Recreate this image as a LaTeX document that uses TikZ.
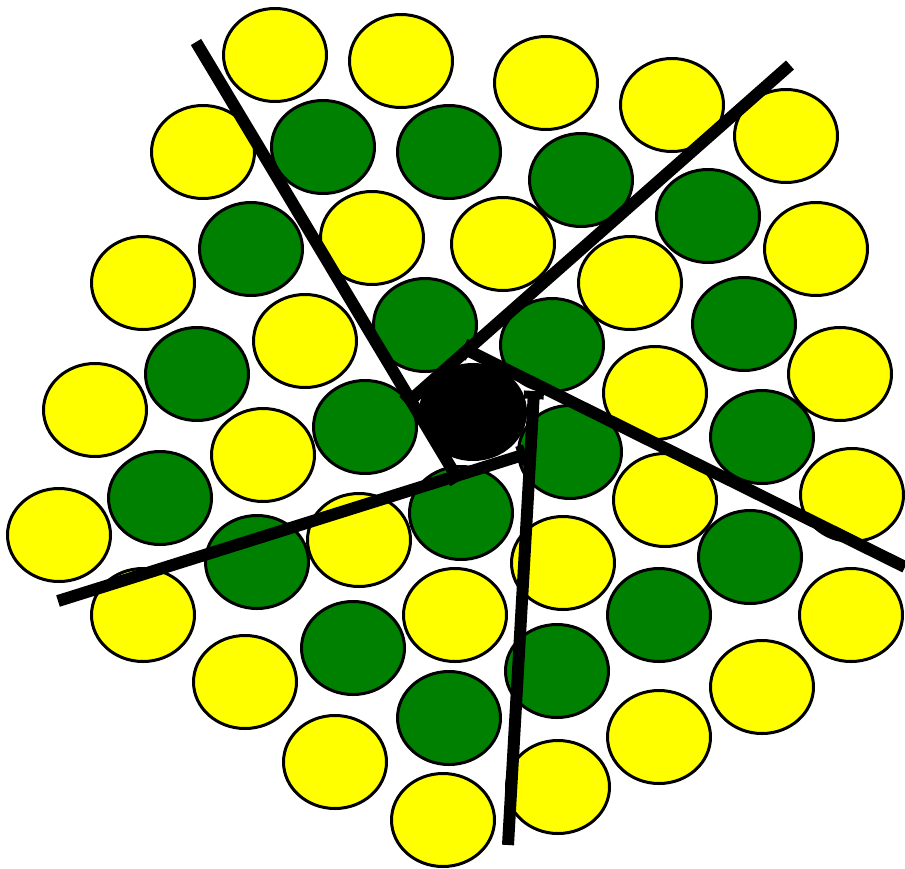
\documentclass[tikz,border=0pt]{standalone}
\usepackage{tikz}
\usetikzlibrary{arrows.meta, shapes.geometric}
\definecolor{discyellow}{RGB}{255, 255, 0}
\definecolor{discgreen}{RGB}{0, 128, 0}

\begin{document}
\begin{tikzpicture}[x=1pt, y=-1pt,
    disc/.style={ellipse, draw=black, line width=3pt, inner sep=0pt,
        minimum width=103pt, minimum height=93pt},
    spoke/.style={line width=12pt, -{Bar[width=20pt, line width=8pt]}}]
    \useasboundingbox (0,0) rectangle (905,868);

    % Yellow discs
    \foreach \p [count=\i] in {(275,55),(401,61),(546,83),(672,105),(786,136),
        (203,152),(143,283),(372,238),(503,244),(630,283),(816,249),
        (305,341),(95,410),(655,393),(840,374),(263,455),(59,535),
        (665,500),(852,495),(359,540),(563,563),(143,615),(455,615),
        (851,615),(245,682),(762,687),(335,762),(659,737),(558,787),(443,820)}
        \node[disc, fill=discyellow] (y\i) at \p {};

    % Green discs
    \foreach \p [count=\i] in {(323,147),(449,152),(581,180),(708,216),(251,249),
        (425,325),(552,345),(744,324),(197,374),(365,427),(570,452),
        (762,437),(160,498),(461,513),(257,562),(750,557),(353,648),
        (659,615),(557,671),(449,718)}
        \node[disc, fill=discgreen] (g\i) at \p {};

    % Hub
    \node[disc, fill=black, minimum width=105pt, minimum height=95pt] (hub) at (473,412) {};

    % Spokes
    \coordinate (a0) at (196,42);  \coordinate (a1) at (459,481);
    \coordinate (b0) at (790,65);  \coordinate (b1) at (406,404);
    \coordinate (c0) at (905,567); \coordinate (c1) at (463,348);
    \coordinate (d0) at (58,601);  \coordinate (d1) at (526,454);
    \coordinate (e0) at (508,845); \coordinate (e1) at (534,391);
    \draw[spoke] (a0) -- (a1);
    \draw[spoke] (b0) -- (b1);
    \draw[spoke] (c0) -- (c1);
    \draw[spoke] (d0) -- (d1);
    \draw[spoke] (e0) -- (e1);
\end{tikzpicture}
\end{document}
